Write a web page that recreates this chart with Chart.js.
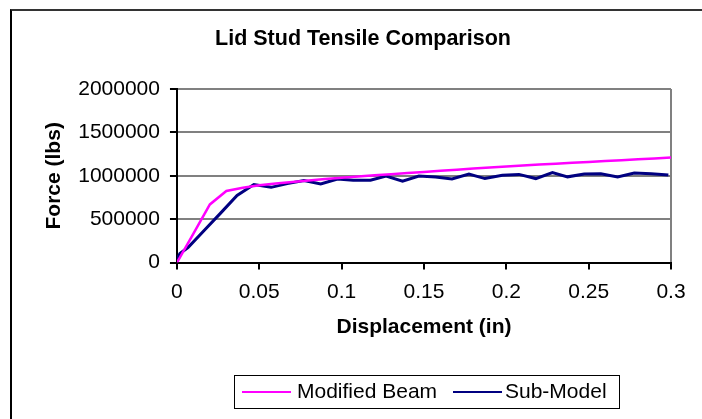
<!DOCTYPE html>
<html>
<head>
<meta charset="utf-8">
<script src="https://cdn.jsdelivr.net/npm/chart.js@4.4.0/dist/chart.umd.min.js"></script>
<style>
  html, body { margin: 0; padding: 0; background: #fff; }
  #wrap { position: relative; width: 702px; height: 419px; overflow: hidden; font-family: 'Liberation Sans', Arial, sans-serif; color: #000; }
  #frame { position: absolute; left: 10px; top: 9px; width: 800px; height: 500px; border-left: 2px solid #000; border-top: 2px solid #333; }
  #chartBox { position: absolute; left: 0; top: 0; width: 702px; height: 419px; }
  #title { position: absolute; left: 183px; top: 26px; width: 360px; text-align: center; font-weight: bold; font-size: 21.5px; white-space: nowrap; }
  #legend { position: absolute; left: 234px; top: 375px; width: 384px; height: 32px; border: 1px solid #000; font-size: 21px; white-space: nowrap; }
  #legend .line { position: absolute; top: 15px; width: 49px; height: 2px; }
  #legend .txt { position: absolute; top: 3px; }
</style>
</head>
<body>
<div id="wrap">
  <div id="frame"></div>
  <div id="chartBox"><canvas id="tensileChart" width="702" height="419"></canvas></div>
  <div id="title">Lid Stud Tensile Comparison</div>
  <div id="legend">
    <span class="line" style="left:7px;background:#ff00ff"></span><span class="txt" style="left:62px">Modified Beam</span>
    <span class="line" style="left:218px;background:#000080"></span><span class="txt" style="left:270px">Sub-Model</span>
  </div>
</div>
<script>
// Modified Beam curve (displacement in, force lbs)
const beamDisp = [0, 0.01, 0.02, 0.03, 0.04, 0.05, 0.06, 0.07, 0.08, 0.09, 0.10,
    0.11, 0.12, 0.13, 0.14, 0.15, 0.16, 0.17, 0.18, 0.19, 0.20,
    0.21, 0.22, 0.23, 0.24, 0.25, 0.26, 0.27, 0.28, 0.29, 0.30];
const beamForce = [0, 335000, 670000, 825000, 862000, 890000, 910000, 928000, 945000, 962000, 978000,
    992000, 1006000, 1019000, 1032000, 1045000, 1058000, 1071000, 1083000, 1095000, 1107000,
    1118000, 1129000, 1140000, 1150000, 1160000, 1170000, 1180000, 1190000, 1200000, 1212000];

// Sub-Model curve
const subDisp = [0, 0.0018, 0.0067, 0.0165, 0.0265, 0.0365, 0.0467, 0.0572, 0.067, 0.0771, 0.0873,
    0.0975, 0.107, 0.1175, 0.127, 0.137, 0.1469, 0.157, 0.167, 0.1773, 0.187,
    0.1976, 0.2077, 0.2179, 0.228, 0.2372, 0.2473, 0.2574, 0.2676, 0.2777, 0.288, 0.2984];
const subForce = [40000, 105000, 173000, 370000, 570000, 773000, 900000, 867000, 910000, 945000, 906000,
    963000, 949000, 949000, 996000, 937000, 998000, 985000, 963000, 1020000, 968000,
    1005000, 1016000, 968000, 1037000, 988000, 1020000, 1024000, 986000, 1031000, 1024000, 1008000];

// Axis ticks
const forceTicks = [0, 500000, 1000000, 1500000, 2000000];
const dispTicks = [0, 0.05, 0.1, 0.15, 0.2, 0.25, 0.3];

const toPoints = (xs, ys) => xs.map((x, i) => ({ x: x, y: ys[i] }));

Chart.defaults.font.family = "'Liberation Sans', Arial, sans-serif";
Chart.defaults.color = '#000';

const ctx = document.getElementById('tensileChart').getContext('2d');
const tensileChart = new Chart(ctx, {
    type: 'scatter',
    data: {
        datasets: [
            {
                label: 'Modified Beam',
                data: toPoints(beamDisp, beamForce),
                showLine: true,
                borderColor: '#ff00ff',
                borderWidth: 2.5,
                pointRadius: 0,
                tension: 0
            },
            {
                label: 'Sub-Model',
                data: toPoints(subDisp, subForce),
                showLine: true,
                borderColor: '#000080',
                borderWidth: 3,
                pointRadius: 0,
                tension: 0
            }
        ]
    },
    options: {
        responsive: false,
        animation: false,
        layout: {
            padding: { top: 89, left: 42, right: 31, bottom: 79 }
        },
        plugins: {
            legend: { display: false },
            title: { display: false },
            tooltip: { enabled: false }
        },
        scales: {
            x: {
                type: 'linear',
                min: 0,
                max: 0.3,
                afterBuildTicks: axis => { axis.ticks = dispTicks.map(v => ({ value: v })); },
                ticks: {
                    font: { size: 21 },
                    padding: 10,
                    maxRotation: 0,
                    callback: v => String(Number(v.toFixed(2)))
                },
                grid: {
                    color: c => (c.index === dispTicks.length - 1 ? '#808080' : 'rgba(0,0,0,0)'),
                    lineWidth: 2,
                    tickLength: 7,
                    tickColor: '#000'
                },
                border: { color: '#000', width: 2 },
                title: {
                    display: true,
                    text: 'Displacement (in)',
                    font: { size: 21, weight: 'bold' },
                    padding: { top: 0, bottom: 0 }
                }
            },
            y: {
                min: 0,
                max: 2000000,
                afterBuildTicks: axis => { axis.ticks = forceTicks.map(v => ({ value: v })); },
                ticks: {
                    font: { size: 21 },
                    padding: 10,
                    callback: v => String(v)
                },
                grid: {
                    color: '#808080',
                    lineWidth: 2,
                    tickLength: 7,
                    tickColor: '#000'
                },
                border: { color: '#000', width: 2 },
                title: {
                    display: true,
                    text: 'Force (lbs)',
                    font: { size: 21, weight: 'bold' },
                    padding: { top: 0, bottom: 1 }
                }
            }
        }
    }
});
</script>
</body>
</html>
